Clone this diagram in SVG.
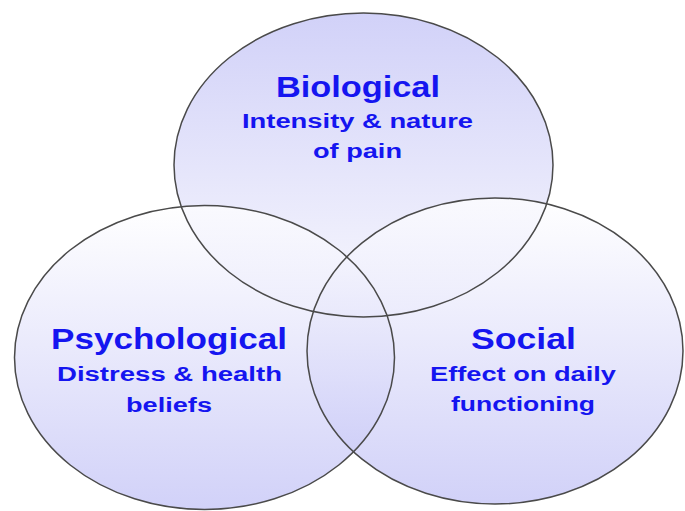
<svg xmlns="http://www.w3.org/2000/svg" width="685" height="511" viewBox="0 0 685 511">
<defs>
<linearGradient id="gTop" x1="0" y1="0" x2="0" y2="1">
<stop offset="0" stop-color="#c2c2f6"/>
<stop offset="1" stop-color="#f6f6fd"/>
</linearGradient>
<linearGradient id="gBot" x1="0" y1="0" x2="0" y2="1">
<stop offset="0" stop-color="#ffffff"/>
<stop offset="1" stop-color="#c2c2f6"/>
</linearGradient>
</defs>
<style>
.c{stroke:none;fill-opacity:0.75}
.o{fill:none;stroke:#4a4a4a;stroke-width:1.5}
.h{font-family:"Liberation Sans",Arial,sans-serif;font-weight:bold;font-size:29px;fill:#1515f0;text-anchor:middle}
.s{font-family:"Liberation Sans",Arial,sans-serif;font-weight:bold;font-size:20px;fill:#1515f0;text-anchor:middle}
</style>
<rect width="685" height="511" fill="#ffffff"/>
<g id="biological">
<ellipse class="c" cx="363.5" cy="165" rx="189.5" ry="152" fill="url(#gTop)"/>
</g>
<g id="psychological">
<ellipse class="c" cx="204.5" cy="357.5" rx="190" ry="152" fill="url(#gBot)"/>
</g>
<g id="social">
<ellipse class="c" cx="495" cy="351" rx="188" ry="153" fill="url(#gBot)"/>
</g>
<g id="outlines">
<ellipse class="o" cx="363.5" cy="165" rx="189.5" ry="152"/>
<ellipse class="o" cx="204.5" cy="357.5" rx="190" ry="152"/>
<ellipse class="o" cx="495" cy="351" rx="188" ry="153"/>
</g>
<g id="labels">
<text class="h" x="358" y="97" textLength="164" lengthAdjust="spacingAndGlyphs">Biological</text>
<text class="s" x="357.5" y="128" textLength="231" lengthAdjust="spacingAndGlyphs">Intensity &amp; nature</text>
<text class="s" x="357.5" y="158" textLength="89" lengthAdjust="spacingAndGlyphs">of pain</text>
<text class="h" x="169" y="349" textLength="236" lengthAdjust="spacingAndGlyphs">Psychological</text>
<text class="s" x="169.5" y="381" textLength="225" lengthAdjust="spacingAndGlyphs">Distress &amp; health</text>
<text class="s" x="169" y="412" textLength="86" lengthAdjust="spacingAndGlyphs">beliefs</text>
<text class="h" x="523.5" y="349" textLength="105" lengthAdjust="spacingAndGlyphs">Social</text>
<text class="s" x="523" y="381" textLength="186" lengthAdjust="spacingAndGlyphs">Effect on daily</text>
<text class="s" x="523" y="411" textLength="144" lengthAdjust="spacingAndGlyphs">functioning</text>
</g>
</svg>
